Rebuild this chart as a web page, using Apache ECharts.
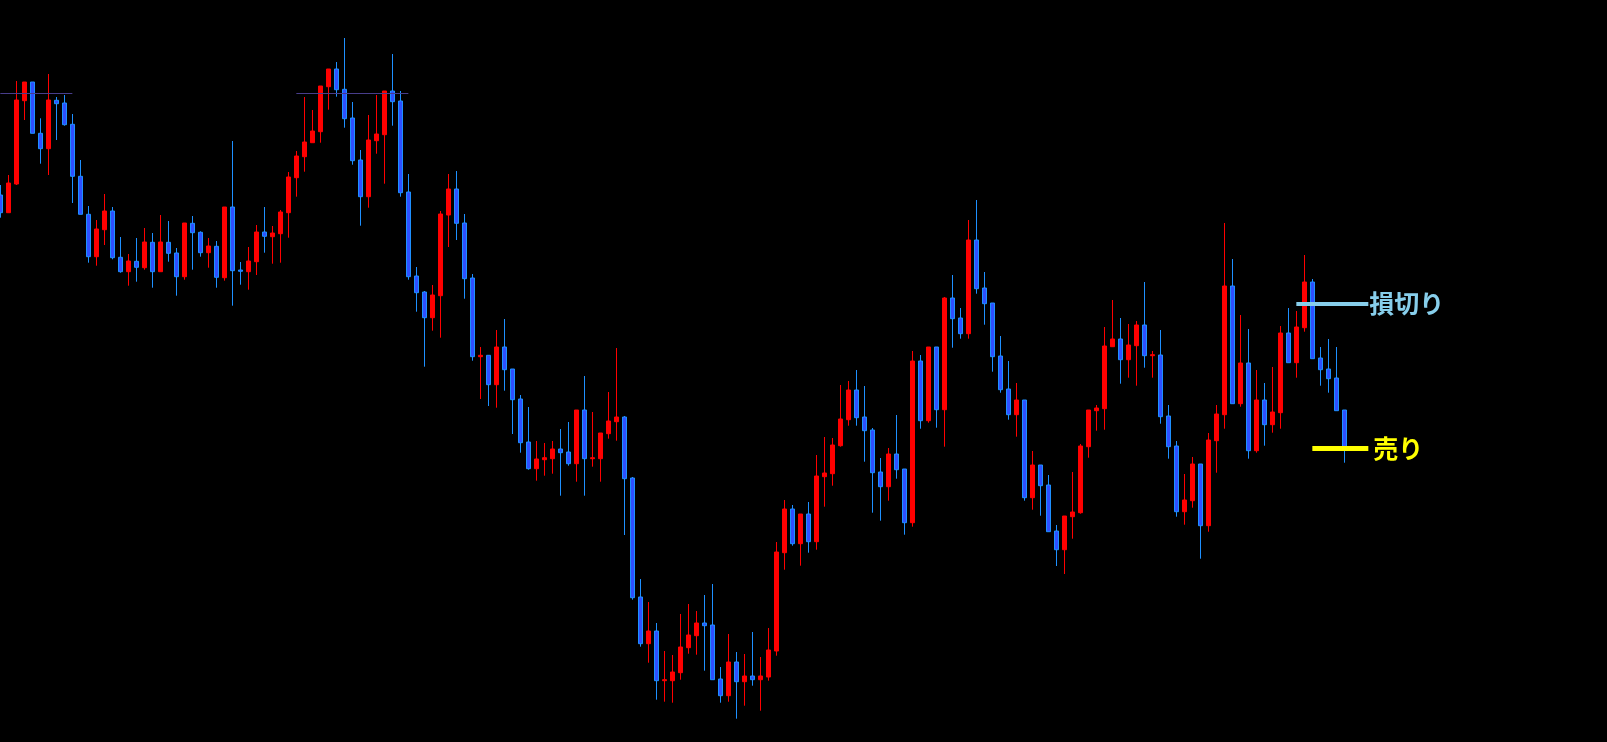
<!DOCTYPE html>
<html>
<head>
<meta charset="utf-8">
<script src="https://cdn.jsdelivr.net/npm/echarts@6/dist/echarts.min.js"></script>
<style>
html,body{margin:0;padding:0;background:#000;}
#chart{width:1607px;height:742px;}
</style>
</head>
<body>
<div id="chart"></div>
<script>
// Candle values (price levels), one entry per bar
const opens = [547,529.3,558,641.3,660,608.7,593.3,641.7,639,617.7,565.7,527.7,485.3,512.3,531,484.7,470.3,480.7,474.3,499.7,470.3,499.7,489,465.3,518.7,509.7,489.3,495.7,464.3,535,472,470.3,480.3,510,505.3,508.3,529.3,564.3,585.3,599.3,610.3,655.3,673,652.7,624,582,545.3,601.3,607.3,651,641,550,466,450,424.3,446.3,527,553,519,464,385.3,386.7,357.3,395,373,343,300,273.3,282.3,283.3,293,290,278.3,332,283.3,283.3,308.3,320.3,325,264,145,98.3,111,61.3,61.3,69.3,94.3,106.3,119,117,63,46.3,80,60.3,66,62.3,65,91,189.3,233,198.3,228,200.3,265.3,268.3,296.3,322.3,352,325,312,270,255.3,288,273,219.3,381,321.3,395,332.3,444,424,408.3,502,454,439,386,353,327.3,342,244.3,277,257,211,192.3,225.3,229.3,295.3,331.3,333.3,395.3,403,382.3,396.3,417,386.3,387,326,296,230.3,241.3,278,216.3,301.3,327.3,456,338.3,379,291.3,342,317.3,329.3,409,379.3,414.3,460,384,373,364,332];
const closes = [529.3,559,642,660,608.7,593.3,642,638.3,617.3,565.7,527.7,485.3,513,531,484.3,470.3,481,474.7,500,470.3,500,488.7,465.3,519,509.3,489.3,496,464.7,535,471.3,470.7,481,510,505.7,509,530,565,586,600,611,656,673,652.3,623.3,581.3,545.3,602,608,651,640.3,549.3,465.3,449.3,424.3,447,528,553,518.7,463.3,385.3,386.7,357.3,395,372.3,342.3,299.3,273.3,283,284.3,293,289.3,278.3,332,283.3,284.3,309,321,325,263.3,144.3,98.3,111,61.3,62.3,70,95,107,119,116.3,62.3,46.3,80,60.3,66,62.3,66,92,190,233,198.3,228,200.3,266,269,297,323,352,324.3,311.3,269.3,255.3,288,272.3,219.3,381,321.3,395,332.3,444,423.3,408.3,502,453.3,438.3,385.3,352.3,327.3,342,244.3,277,256.3,210.3,192.3,226,230,296,332,334,396,403,382.3,397,417,386.3,387.3,325.3,295.3,230.3,242,278,216.3,302,328,456,338.3,379,291.3,342,317.3,330,409,379.3,415,460,383.3,372.3,363.3,331.3,295.3];
const lows = [524.3,529.3,557,622,608.7,578.3,567,602,616.3,539,527.7,479.3,476.3,497,482.7,469.3,456.3,460.3,472.3,454.3,470.3,480.3,446.3,462.3,472.3,485.3,474.3,454.3,461.3,436.3,457.3,452.3,467,489.3,478.3,479.3,504.3,545.3,570.3,599.3,599.3,632.3,645.3,614.3,577.3,516.3,534.3,588.3,558.3,616.3,545.3,462.3,430.3,375.3,411.3,404.3,495,502,443.3,381.3,343,336,334.3,351.3,308,289.3,272.3,261.3,266.3,268.3,246.3,276.3,260.3,246.3,275.3,260.3,303.3,301.3,207,142.3,95.3,79.3,42.3,40.3,39.3,62.3,88.3,87.3,71.3,62.3,39.3,40.3,23.3,36.3,56.3,31.3,61.3,86.3,172.3,196.3,176.3,189.3,192.3,235.3,256.3,295.3,316.3,316.3,280.3,229.3,221.3,241.3,263.3,207.3,215.3,313.3,319.3,314.3,295.3,394.3,403.3,403.3,448.3,417.3,370.3,349.3,322.3,305.3,241.3,232.3,226.3,210.3,176,168,203.3,228.3,284.3,311.3,312.3,395.3,358.3,364.3,356.3,374.3,364.3,318.3,283.3,225.3,217.3,234.3,183.3,210.3,269.3,313.3,338.3,335.3,283.3,289.3,296.3,309.3,313.3,379.3,364.3,410.3,383.3,356.3,349.3,331.3,279.3];
const highs = [557,567,661,660,660,623.7,668,645,647,628,582,536,522,548,535,505,488,504,514,509,527,521,494,519,526,510.7,504,501,535,601,480,495,517,535,516,532,570,591,645,632,656,673,680,704,640,592,627,647,651,688,651,568,475,451,457,531,568,571,528,468,395,386.7,412,423,373,347,335,301,299,301,313,320,332,366,330,309,350,394,326,265,163,140,119,91,87,128,138,131,147,158,75,108,90,88,110,85,114,200,242,237,228,240,287,305,304,357,361,372,356,314,284,294,327,273,391,387,395,395,445,467,434,522,542,470,439,406,381,359,342,291,277,267,217,226,270,298,332,337,415,442,424,418,421,460,391,412,337,301,268,285,278,309,337,519,483,427,413,372,359,375,416,434,431,487,463,395,403,395,332];
// Empty slots to the right of the last bar
const padSlots = 32;
// Horizontal levels
const resistanceLevel = 648.7;
const resistanceSpans = [[0, 9], [37, 51]];
const stopLevel = 438.7;
const stopSpan = [162, 171];
const sellLevel = 293.7;
const sellSpan = [164, 171];
const stopText = '損切り';
const sellText = '売り';

const n = opens.length;
const total = n + padSlots;
const categories = [];
for (let i = 0; i < total; i++) categories.push(String(i));
const candleData = opens.map((o, i) => [o, closes[i], lows[i], highs[i]]);

const chart = echarts.init(document.getElementById('chart'), null, {renderer: 'canvas'});
chart.setOption({
  backgroundColor: '#000000',
  animation: false,
  grid: {left: 0.33, top: 0, width: 8 * (total - 1), height: 742},
  xAxis: {type: 'category', data: categories, boundaryGap: false, show: false},
  yAxis: {type: 'value', min: 0, max: 742, show: false, splitLine: {show: false}},
  series: [{
    type: 'candlestick',
    data: candleData,
    barWidth: 5,
    clip: false,
    itemStyle: {
      color: '#ff0000', borderColor: '#ff0000',
      color0: '#2e4fff', borderColor0: '#1e90ff',
      borderWidth: 1
    },
    markLine: {
      silent: true,
      symbol: ['none', 'none'],
      animation: false,
      data: [
        ...resistanceSpans.map(s => [
          {coord: [s[0], resistanceLevel], lineStyle: {color: '#483d8b', width: 1, type: 'solid'}, label: {show: false}},
          {coord: [s[1], resistanceLevel]}
        ]),
        [
          {coord: [stopSpan[0], stopLevel], lineStyle: {color: '#87ceeb', width: 4, type: 'solid', cap: 'butt'},
           label: {show: true, position: 'end', formatter: stopText, color: '#87ceeb', fontSize: 25, fontWeight: 'bold', fontFamily: 'Noto Sans CJK JP', distance: 1}},
          {coord: [stopSpan[1], stopLevel]}
        ],
        [
          {coord: [sellSpan[0], sellLevel], lineStyle: {color: '#ffff00', width: 5, type: 'solid', cap: 'butt'},
           label: {show: true, position: 'end', formatter: sellText, color: '#ffff00', fontSize: 25, fontWeight: 'bold', fontFamily: 'Noto Sans CJK JP', distance: 5}},
          {coord: [sellSpan[1], sellLevel]}
        ]
      ]
    }
  }]
});
</script>
</body>
</html>
